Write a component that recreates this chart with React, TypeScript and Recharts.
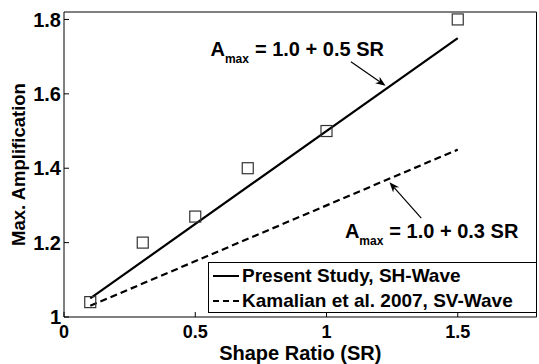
import React from 'react';
import {
  ComposedChart,
  Line,
  Scatter,
  XAxis,
  YAxis,
  Legend,
  ReferenceLine,
  ReferenceDot,
} from 'recharts';

const shapeRatio = [0.1, 0.3, 0.5, 0.7, 1.0, 1.5];
const maxAmp = [1.04, 1.2, 1.27, 1.4, 1.5, 1.8];
const fitSR = [0.1, 1.5];
const presentFit = [1.05, 1.75];
const kamalianFit = [1.03, 1.45];
const xTicks = [0, 0.5, 1, 1.5];
const yTicks = [1, 1.2, 1.4, 1.6, 1.8];

// annotation text anchors + arrow tail/tip, in data units
const notes = [
  { text: '= 1.0 + 0.5 SR', x: 0.558, y: 1.703, tail: [1.093, 1.686], tip: [1.225, 1.622] },
  { text: '= 1.0 + 0.3 SR', x: 1.07, y: 1.213, tail: [1.361, 1.266], tip: [1.24, 1.362] },
];

const legendItems = [
  { name: 'Present Study, SH-Wave', dash: undefined },
  { name: 'Kamalian et al. 2007, SV-Wave', dash: '6 4' },
];

const FONT = '"Liberation Sans", Arial, Helvetica, sans-serif';

const points = shapeRatio.map((x, i) => ({ x, y: maxAmp[i] }));
const present = fitSR.map((x, i) => ({ x, y: presentFit[i] }));
const kamalian = fitSR.map((x, i) => ({ x, y: kamalianFit[i] }));

const Square = (props: any) => {
  const { cx, cy } = props;
  const s = 11;
  return <rect x={cx - s / 2} y={cy - s / 2} width={s} height={s} fill="none" stroke="#333" strokeWidth={1.2} />;
};

const Arrow = (props: any) => {
  const { x1, y1, x2, y2 } = props;
  const ang = Math.atan2(y2 - y1, x2 - x1);
  const L = 10;
  const W = 4;
  const bx = x2 - L * Math.cos(ang);
  const by = y2 - L * Math.sin(ang);
  const nx = -Math.sin(ang);
  const ny = Math.cos(ang);
  const mx = x2 - L * 0.7 * Math.cos(ang);
  const my = y2 - L * 0.7 * Math.sin(ang);
  return (
    <g>
      <line x1={x1} y1={y1} x2={mx} y2={my} stroke="#000" strokeWidth={1.2} />
      <polygon
        points={`${x2},${y2} ${bx + nx * W},${by + ny * W} ${mx},${my} ${bx - nx * W},${by - ny * W}`}
        fill="#000"
      />
    </g>
  );
};

const NoteText = (text: string) => (props: any) => {
  const { cx, cy } = props;
  return (
    <text x={cx} y={cy} fontFamily={FONT} fontWeight="bold" fontSize={20} fill="#000">
      A
      <tspan fontSize={12} dy={7}>max</tspan>
      <tspan dy={-7} dx={6}>{text}</tspan>
    </text>
  );
};

const LegendBox = () => (
  <div
    style={{
      border: '1.5px solid #000',
      background: '#fff',
      boxSizing: 'border-box',
      height: 51,
      fontFamily: FONT,
      fontWeight: 'bold',
      fontSize: 19,
      color: '#000',
    }}
  >
    {legendItems.map(it => (
      <div key={it.name} style={{ display: 'flex', alignItems: 'center', height: 25, whiteSpace: 'nowrap' }}>
        <svg width={26} height={10} style={{ marginLeft: 4 }}>
          <line x1={0} y1={5} x2={26} y2={5} stroke="#000" strokeWidth={2} strokeDasharray={it.dash} />
        </svg>
        <span style={{ marginLeft: 3 }}>{it.name}</span>
      </div>
    ))}
  </div>
);

export default function App() {
  const xTickStyle = { fontSize: 18, fontWeight: 'bold', fill: '#000', fontFamily: FONT };
  const yTickStyle = { fontSize: 20, fontWeight: 'bold', fill: '#000', fontFamily: FONT };
  return (
    <div style={{ position: 'absolute', left: 0, top: 0 }}>
      <ComposedChart width={539} height={364} margin={{ top: 0, right: 0, bottom: 0, left: 0 }}>
        <XAxis
          dataKey="x"
          type="number"
          domain={[0, 1.8]}
          ticks={xTicks}
          tick={xTickStyle}
          tickSize={-5}
          tickMargin={13}
          stroke="#000"
          height={47}
          allowDataOverflow
          label={{
            value: 'Shape Ratio (SR)',
            position: 'insideBottom',
            offset: 4,
            style: { fontSize: 20, fontWeight: 'bold', fill: '#000', fontFamily: FONT },
          }}
        />
        <XAxis
          xAxisId="top"
          orientation="top"
          type="number"
          domain={[0, 1.8]}
          ticks={xTicks}
          tick={false}
          tickSize={-5}
          stroke="#000"
          height={12}
        />
        <YAxis
          type="number"
          domain={[1, 1.82]}
          ticks={yTicks}
          tick={yTickStyle}
          tickSize={-5}
          tickMargin={8}
          stroke="#000"
          width={64}
          allowDataOverflow
          label={{
            content: (p: any) => {
              const vb = p.viewBox;
              const x = vb.x + 24.5;
              const y = vb.y + vb.height / 2;
              return (
                <text
                  x={x}
                  y={y}
                  transform={`rotate(-90, ${x}, ${y})`}
                  textAnchor="middle"
                  fontFamily={FONT}
                  fontWeight="bold"
                  fontSize={18.5}
                  fill="#000"
                >
                  Max. Amplification
                </text>
              );
            },
          }}
        />
        <YAxis
          yAxisId="right"
          orientation="right"
          type="number"
          domain={[1, 1.82]}
          ticks={yTicks}
          tick={false}
          tickSize={-5}
          stroke="#000"
          width={2.5}
        />
        <Line data={present} dataKey="y" type="linear" stroke="#000" strokeWidth={2.2} dot={false} isAnimationActive={false} legendType="none" />
        <Line data={kamalian} dataKey="y" type="linear" stroke="#000" strokeWidth={2.2} strokeDasharray="7 4" dot={false} isAnimationActive={false} legendType="none" />
        <Scatter data={points} dataKey="y" shape={<Square />} isAnimationActive={false} legendType="none" />
        {notes.map((n, i) => (
          <ReferenceLine
            key={'a' + i}
            segment={[{ x: n.tail[0], y: n.tail[1] }, { x: n.tip[0], y: n.tip[1] }]}
            shape={Arrow}
          />
        ))}
        {notes.map((n, i) => (
          <ReferenceDot key={'t' + i} x={n.x} y={n.y} r={0} shape={NoteText(n.text)} />
        ))}
        <Legend
          layout="horizontal"
          verticalAlign="middle"
          align="center"
          content={<LegendBox />}
          wrapperStyle={{ left: 208, top: 262, width: 329, height: 51, margin: 0 }}
        />
      </ComposedChart>
    </div>
  );
}
